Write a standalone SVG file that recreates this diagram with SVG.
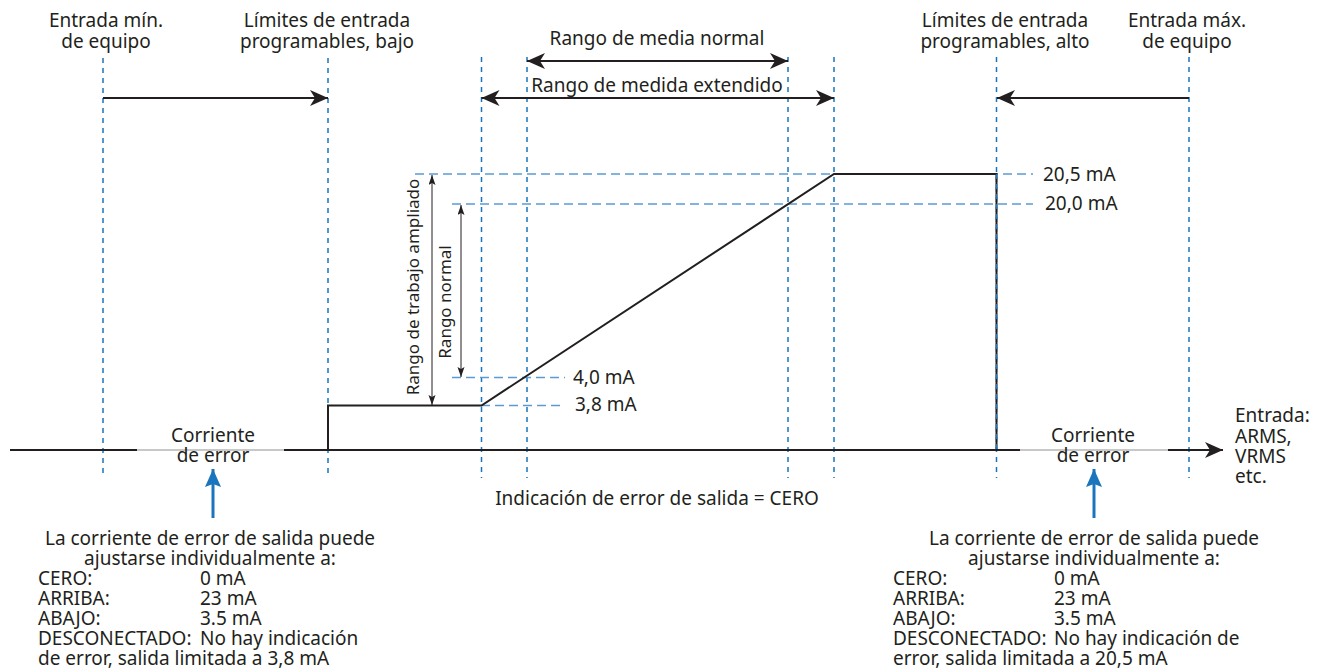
<svg xmlns="http://www.w3.org/2000/svg" width="1327" height="669" viewBox="0 0 1327 669">
<style>
text{font-family:"Noto Sans","Liberation Sans",sans-serif;font-size:19px;fill:#231f20}
.c{text-anchor:middle}
.r{font-size:17px}
.vd{stroke:#1a75bc;stroke-width:1.5;stroke-dasharray:5 5;fill:none}
.hd{stroke:#5b9bd5;stroke-width:1.5;stroke-dasharray:9 5;fill:none}
.k{stroke:#231f20;stroke-width:2;fill:none}
.g{stroke:#c8c8c8;stroke-width:2;fill:none}
.t{stroke:#231f20;stroke-width:1;fill:none}
.b{stroke:#1a75bc;stroke-width:3;fill:none}
</style>
<defs>
<marker id="ah" markerUnits="userSpaceOnUse" markerWidth="20" markerHeight="18" refX="18" refY="8" orient="auto-start-reverse" viewBox="0 0 20 18">
<path d="M0,0 L18,8 L0,16 L5,8 Z" fill="#231f20"/>
</marker>
<marker id="sh" markerUnits="userSpaceOnUse" markerWidth="12" markerHeight="8" refX="10" refY="3.5" orient="auto-start-reverse" viewBox="0 0 12 8">
<path d="M0,0 L10,3.5 L0,7 L2,3.5 Z" fill="#231f20"/>
</marker>
<marker id="bh" markerUnits="userSpaceOnUse" markerWidth="20" markerHeight="18" refX="18" refY="8" orient="auto" viewBox="0 0 20 18">
<path d="M0,0 L18,8 L0,16 L3,8 Z" fill="#1a75bc"/>
</marker>
</defs>

<g id="guides">
<line class="vd" x1="103" y1="58" x2="103" y2="478"/>
<line class="vd" x1="328" y1="58" x2="328" y2="478"/>
<line class="vd" x1="481.5" y1="57" x2="481.5" y2="478"/>
<line class="vd" x1="527" y1="57" x2="527" y2="478"/>
<line class="vd" x1="788" y1="57" x2="788" y2="478"/>
<line class="vd" x1="834" y1="57" x2="834" y2="478"/>
<line class="vd" x1="996.5" y1="57" x2="996.5" y2="478"/>
<line class="vd" x1="1189" y1="57" x2="1189" y2="478"/>
<line class="hd" x1="415" y1="174" x2="1033" y2="174"/>
<line class="hd" x1="452" y1="204" x2="1033" y2="204"/>
<line class="hd" x1="452" y1="377.5" x2="565" y2="377.5"/>
<line class="hd" x1="481" y1="405.5" x2="565" y2="405.5"/>
</g>

<g id="connectors">
<line class="k" x1="103" y1="98" x2="328" y2="98" marker-end="url(#ah)"/>
<line class="k" x1="1189" y1="98" x2="997" y2="98" marker-end="url(#ah)"/>
<line class="k" x1="527" y1="61" x2="788" y2="61" marker-start="url(#ah)" marker-end="url(#ah)"/>
<line class="k" x1="481.5" y1="98" x2="834" y2="98" marker-start="url(#ah)" marker-end="url(#ah)"/>
<line class="t" x1="432" y1="175" x2="432" y2="405" marker-start="url(#sh)" marker-end="url(#sh)"/>
<line class="t" x1="461" y1="205" x2="461" y2="377" marker-start="url(#sh)" marker-end="url(#sh)"/>
<line class="b" x1="213" y1="518" x2="213" y2="469" marker-end="url(#bh)"/>
<line class="b" x1="1094" y1="518" x2="1094" y2="469" marker-end="url(#bh)"/>
</g>

<g id="axis">
<line class="k" x1="10" y1="450" x2="137" y2="450"/>
<line class="g" x1="137" y1="450" x2="284" y2="450"/>
<line class="k" x1="284" y1="450" x2="1020" y2="450"/>
<line class="g" x1="1020" y1="450" x2="1168" y2="450"/>
<line class="k" x1="1168" y1="450" x2="1223" y2="450" marker-end="url(#ah)"/>
</g>

<g id="curve">
<polyline class="k" points="328,450 328,405.5 481.5,405.5 834,174 996.5,174 996.5,450" stroke-linejoin="miter"/>
<line class="vd" x1="996.5" y1="174" x2="996.5" y2="450"/>
</g>

<g id="labels-top">
<text class="c" x="106" y="27"><tspan x="106">Entrada mín.</tspan><tspan x="106" y="48">de equipo</tspan></text>
<text class="c" x="327" y="27"><tspan x="327">Límites de entrada</tspan><tspan x="327" y="48">programables, bajo</tspan></text>
<text class="c" x="1005" y="27"><tspan x="1005">Límites de entrada</tspan><tspan x="1005" y="48">programables, alto</tspan></text>
<text class="c" x="1187" y="27"><tspan x="1187">Entrada máx.</tspan><tspan x="1187" y="48">de equipo</tspan></text>
<text class="c" x="657" y="45">Rango de media normal</text>
<text class="c" x="657" y="92">Rango de medida extendido</text>
</g>

<g id="labels-levels">
<text x="1043" y="181">20,5 mA</text>
<text x="1045" y="210">20,0 mA</text>
<text x="573" y="384">4,0 mA</text>
<text x="575" y="411">3,8 mA</text>
<text class="c r" transform="translate(419,287) rotate(-90)">Rango de trabajo ampliado</text>
<text class="c r" transform="translate(451,302) rotate(-90)">Rango normal</text>
</g>

<g id="labels-bottom">
<text class="c" x="213" y="442"><tspan x="213">Corriente</tspan><tspan x="213" y="462">de error</tspan></text>
<text class="c" x="1093" y="442"><tspan x="1093">Corriente</tspan><tspan x="1093" y="462">de error</tspan></text>
<text class="c" x="657" y="505">Indicación de error de salida = CERO</text>
<text x="1235" y="422"><tspan x="1235">Entrada:</tspan><tspan x="1235" y="443">ARMS,</tspan><tspan x="1235" y="463">VRMS</tspan><tspan x="1235" y="483">etc.</tspan></text>
</g>

<g id="note-left">
<text x="38" y="545"><tspan class="c" x="210">La corriente de error de salida puede</tspan><tspan class="c" x="210" y="565">ajustarse individualmente a:</tspan><tspan x="38" y="585">CERO:</tspan><tspan x="200">0 mA</tspan><tspan x="38" y="605">ARRIBA:</tspan><tspan x="200">23 mA</tspan><tspan x="38" y="625">ABAJO:</tspan><tspan x="200">3.5 mA</tspan><tspan x="38" y="645">DESCONECTADO:</tspan><tspan x="200">No hay indicación</tspan><tspan x="38" y="665">de error, salida limitada a 3,8 mA</tspan></text>
</g>

<g id="note-right">
<text x="893" y="545"><tspan class="c" x="1094">La corriente de error de salida puede</tspan><tspan class="c" x="1094" y="565">ajustarse individualmente a:</tspan><tspan x="893" y="585">CERO:</tspan><tspan x="1054">0 mA</tspan><tspan x="893" y="605">ARRIBA:</tspan><tspan x="1054">23 mA</tspan><tspan x="893" y="625">ABAJO:</tspan><tspan x="1054">3.5 mA</tspan><tspan x="893" y="645">DESCONECTADO:</tspan><tspan x="1054">No hay indicación de</tspan><tspan x="893" y="665">error, salida limitada a 20,5 mA</tspan></text>
</g>
</svg>
